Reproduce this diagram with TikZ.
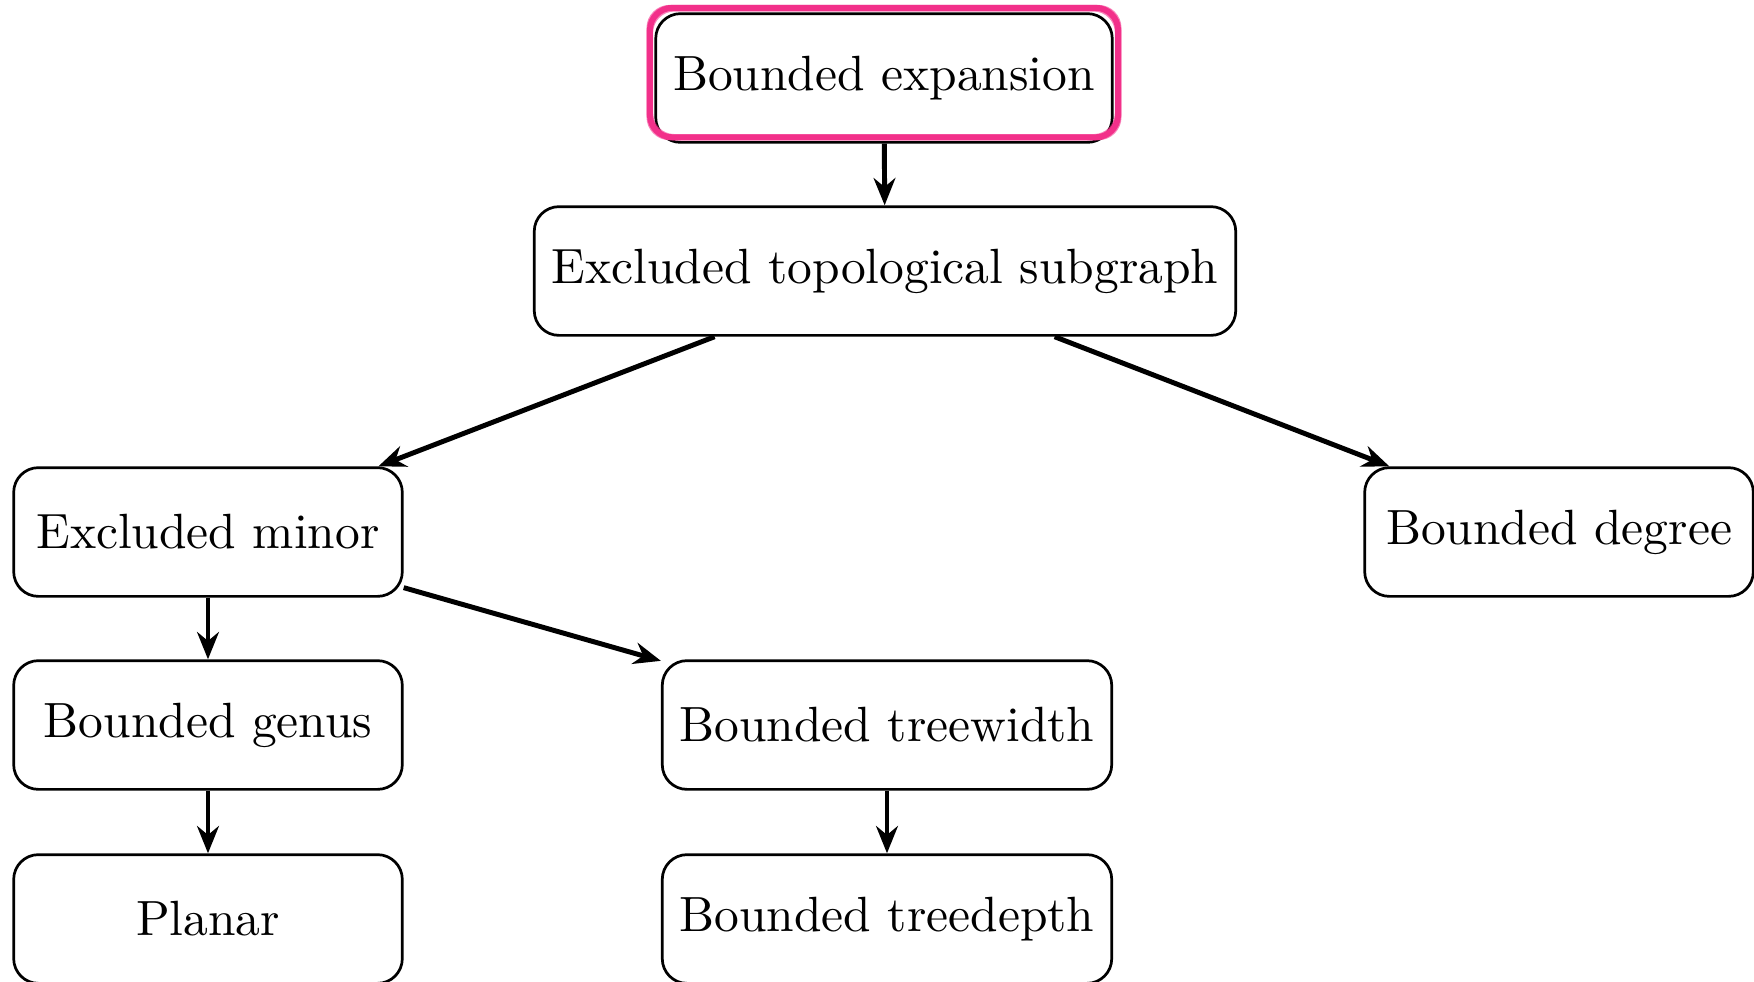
\documentclass[tikz,border=0pt]{standalone}
\usetikzlibrary{arrows.meta}
\definecolor{pinkmark}{RGB}{242,48,138}
\begin{document}
\begin{tikzpicture}[x=0.202pt,y=-0.202pt,
  box/.style={draw, line width=0.55pt, rounded corners=5pt, minimum width=78.5pt, minimum height=26pt, inner sep=3.5pt, font=\normalsize},
  arr/.style={line width=1pt, -{Stealth[length=5.5pt,width=4.4pt,inset=1.8pt]}},
  marker/.style={draw=pinkmark, rounded corners=4.5pt}]
\useasboundingbox (0,0) rectangle (1754,981);
\node[box] (BE) at (884,78) {Bounded expansion};
\node[box] (ETS) at (885,271) {Excluded topological subgraph};
\node[box] (EM) at (208,532) {Excluded minor};
\node[box] (BD) at (1559,532) {Bounded degree};
\node[box] (BG) at (208,725) {Bounded genus};
\node[box] (BT) at (887,725) {Bounded treewidth};
\node[box] (P) at (208,919) {Planar};
\node[box] (BTD) at (887,919) {Bounded treedepth};
% marker highlight
\coordinate (m1) at ([shift={(-0.9pt,1.3pt)}]BE.south west);
\coordinate (m2) at ([shift={(0.9pt,0.9pt)}]BE.north east);
\path[marker, line width=1.2pt] (m1) rectangle (m2);
\path[marker, line width=0.5pt, opacity=0.6] ([shift={(0.4pt,0.4pt)}]m1) rectangle ([shift={(-0.4pt,-0.5pt)}]m2);
\path[marker, line width=0.4pt, opacity=0.6] ([shift={(-0.5pt,-0.4pt)}]m1) rectangle ([shift={(0.5pt,0.4pt)}]m2);
% connectors
\draw[arr] (BE) -- (ETS);
\draw[arr] (ETS) -- (EM);
\draw[arr] (ETS) -- (BD);
\draw[arr] (EM) -- (BG);
\draw[arr] (EM) -- (BT);
\draw[arr] (BG) -- (P);
\draw[arr] (BT) -- (BTD);
\end{tikzpicture}
\end{document}
